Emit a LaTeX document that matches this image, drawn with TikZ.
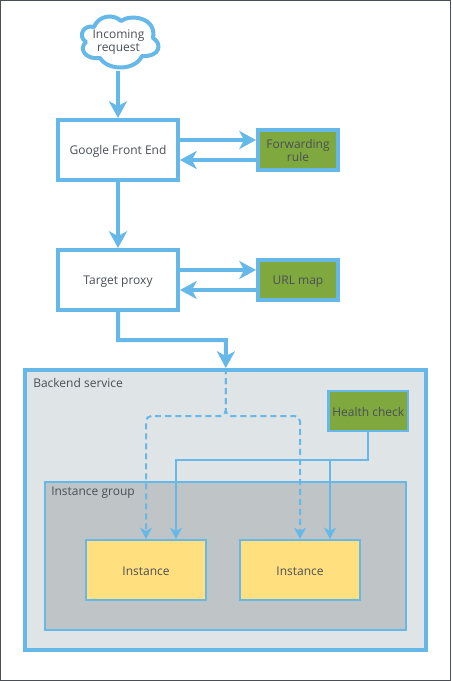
\documentclass[tikz,border=0pt]{standalone}
\usepackage{fontspec}
\setmainfont{Open Sans}
\usetikzlibrary{arrows.meta,calc}
\definecolor{lineblue}{HTML}{66B8E8}
\definecolor{leaf}{HTML}{7FA83F}
\definecolor{sun}{HTML}{FFDF7E}
\definecolor{paleback}{HTML}{DFE4E7}
\definecolor{greygroup}{HTML}{BFC4C6}
\definecolor{ink}{HTML}{4A4F55}
\newcommand{\txtprop}{\rule[-1pt]{0pt}{9.5pt}}
\AtBeginDocument{\setlength{\lineskiplimit}{-5pt}\setlength{\normallineskiplimit}{-5pt}}
\tikzset{
  every node/.style={text=ink,font=\fontsize{9}{10}\selectfont,align=center,inner sep=0pt},
  mainbox/.style={draw=lineblue,line width=3pt,fill=white,minimum width=90pt,minimum height=45pt},
  greenbox/.style={draw=lineblue,line width=3pt,fill=leaf,minimum width=60pt,minimum height=30pt},
  hcbox/.style={draw=lineblue,line width=1.8pt,fill=leaf,minimum width=59.5pt,minimum height=30pt},
  backendbox/.style={draw=lineblue,line width=3pt,fill=paleback,minimum width=300.4pt,minimum height=210pt},
  groupbox/.style={draw=lineblue,line width=1.5pt,fill=greygroup,minimum width=270.4pt,minimum height=111pt},
  instbox/.style={draw=lineblue,line width=1.5pt,fill=sun,minimum width=90pt,minimum height=45pt},
  caption/.style={anchor=west},
  bigarrow/.style={draw=lineblue,line width=3pt,-{Stealth[length=12.5pt,width=13.5pt,inset=3.5pt]}},
  smallarrow/.style={draw=lineblue,line width=1.5pt,-{Stealth[length=8.5pt,width=9pt,inset=2.5pt]}},
  dasharrow/.style={smallarrow,dash pattern=on 4.5pt off 3pt,rounded corners=4pt},
  cloudline/.style={draw=lineblue,line width=3pt,fill=white,line join=round},
}
\begin{document}
\begin{tikzpicture}[x=0.75pt,y=-0.75pt]
\useasboundingbox (0,0) rectangle (451,681);
\draw[draw=ink,line width=0.9pt] (0.5,0.5) rectangle (450.5,680.5);
% cloud
\draw[cloudline] (86,42)
  .. controls (77,36) and (84,24) .. (94,27)
  .. controls (98,16) and (113,13) .. (121,21)
  .. controls (130,14) and (157,17) .. (153,38)
  .. controls (162,43) and (161,57) .. (142,56)
  .. controls (135,71) and (108,71) .. (100,58)
  .. controls (86,60) and (78,49) .. (86,42) -- cycle;
\node (cloud) at (118.5,40.5) {\txtprop Incoming\\\txtprop request};
\node[mainbox] (gfe) at (118,150) {\txtprop Google Front End};
\node[greenbox] (fr) at (298,150) {\txtprop Forwarding\\\txtprop rule};
\node[mainbox] (tp) at (118,280) {\txtprop Target proxy};
\node[greenbox] (url) at (298,280) {\txtprop URL map};
\node[backendbox] (backend) at (225.75,510) {};
\node[caption] (bl) at (33,383) {Backend service};
\node[hcbox] (hc) at (368.25,411) {\txtprop Health check};
\node[groupbox] (group) at (225.75,556) {};
\node[caption] (gl) at (51,493) {Instance group};
\node[instbox] (i1) at (146,570) {\txtprop Instance};
\node[instbox] (i2) at (300,570) {\txtprop Instance};
% connectors
\coordinate (cb) at (118,71);
\draw[bigarrow] (cb) -- (gfe.north);
\draw[bigarrow] (gfe.south) -- (tp.north);
\draw[bigarrow] ([yshift=7.5pt]gfe.east) -- ([yshift=7.5pt]fr.west);
\draw[bigarrow] ([yshift=-7.5pt]fr.west) -- ([yshift=-7.5pt]gfe.east);
\draw[bigarrow] ([yshift=7.5pt]tp.east) -- ([yshift=7.5pt]url.west);
\draw[bigarrow] ([yshift=-7.5pt]url.west) -- ([yshift=-7.5pt]tp.east);
\draw[bigarrow] (tp.south) |- (226,340) -- (backend.north);
\draw[dasharrow] (backend.north) -- ++(0,48) -| (i1.north);
\draw[dasharrow] (backend.north) -- ++(0,48) -| (i2.north);
\draw[smallarrow] (hc.south) |- (176,460) -- ([xshift=22.5pt]i1.north);
\draw[smallarrow] (330,460) -- ([xshift=22.5pt]i2.north);
\end{tikzpicture}
\end{document}
